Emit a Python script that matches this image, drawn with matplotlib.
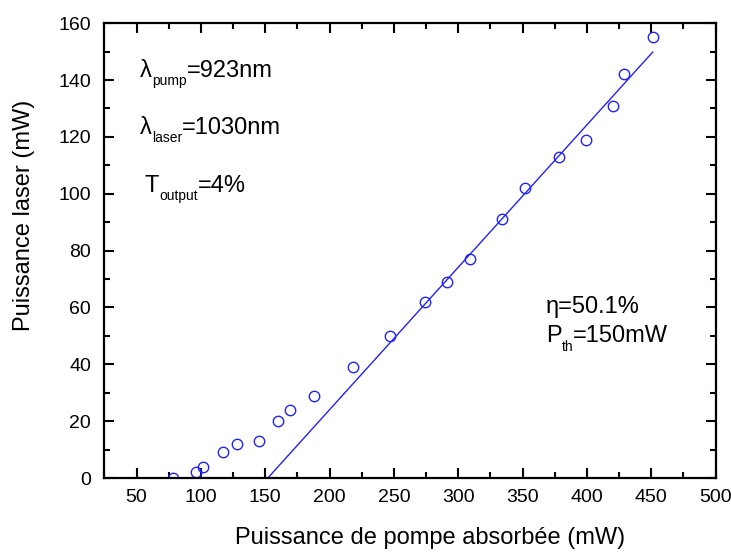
import matplotlib
matplotlib.use("Agg")
import matplotlib.pyplot as plt
import numpy as np
from matplotlib.ticker import MultipleLocator

plt.rcParams["font.family"] = ["Liberation Sans", "DejaVu Sans"]

# measured points: absorbed pump power (mW) vs laser output (mW)
pump_power = [78, 96, 102, 117, 128, 145, 160, 169, 188, 218, 247,
              274, 291, 309, 334, 352, 378, 399, 420, 429, 451]
laser_power = [0, 2, 4, 9, 12, 13, 20, 24, 29, 39, 50,
               62, 69, 77, 91, 102, 113, 119, 131, 142, 155]

# linear fit above threshold
slope_eff = 0.501
threshold = 152
fit_x = np.array([threshold, 451])
fit_y = slope_eff * (fit_x - threshold)

BIG = 17
SMALL = 10
DROP = 4.8  # subscript drop, points


def sub_label(ax, x, y, head, sub, tail):
    """Text with a small, low subscript, like the Origin export."""
    t1 = ax.text(x, y, head, fontsize=BIG, va="baseline")
    t2 = ax.annotate(sub, xy=(1, 0), xycoords=t1, xytext=(0, -DROP),
                     textcoords="offset points", fontsize=SMALL, va="bottom")
    ax.annotate(tail, xy=(1, 0), xycoords=t2, xytext=(0, DROP),
                textcoords="offset points", fontsize=BIG, va="bottom")


fig = plt.figure(figsize=(7.31, 5.52), dpi=100)
ax = fig.add_axes([0.1428, 0.134, 0.979 - 0.1428, 0.958 - 0.134])

ax.plot(pump_power, laser_power, "o", mfc="none", mec="#2222ff",
        ms=7.5, mew=1.0)
ax.plot(fit_x, fit_y, color="#2222ff", lw=1.0)

ax.set_xlim(25, 500)
ax.set_ylim(0, 160)
ax.xaxis.set_major_locator(MultipleLocator(50))
ax.xaxis.set_minor_locator(MultipleLocator(25))
ax.yaxis.set_major_locator(MultipleLocator(20))
ax.yaxis.set_minor_locator(MultipleLocator(10))
ax.tick_params(which="both", direction="in", top=True, right=True,
               width=1.5, labelsize=14)
ax.tick_params(axis="x", pad=8)
ax.tick_params(axis="y", pad=9.5)
ax.tick_params(which="major", length=7)
ax.tick_params(which="minor", length=4)
for sp in ax.spines.values():
    sp.set_linewidth(1.6)

ax.set_xlabel("Puissance de pompe absorbée (mW)", fontsize=17, labelpad=17)
ax.set_ylabel("Puissance laser (mW)", fontsize=17, labelpad=17)
ax.xaxis.set_label_coords(0.533, -0.107)
ax.yaxis.set_label_coords(-0.113, 0.578)

sub_label(ax, 52.7, 141.2, "\u03bb", "pump", "=923nm")
sub_label(ax, 52.7, 121.1, "\u03bb", "laser", "=1030nm")
sub_label(ax, 56.5, 100.7, "T", "output", "=4%")
ax.text(368, 58.1, "\u03b7=50.1%", fontsize=BIG, va="baseline")
sub_label(ax, 368, 47.9, "P", "th", "=150mW")

fig.savefig("out.png", dpi=100)
